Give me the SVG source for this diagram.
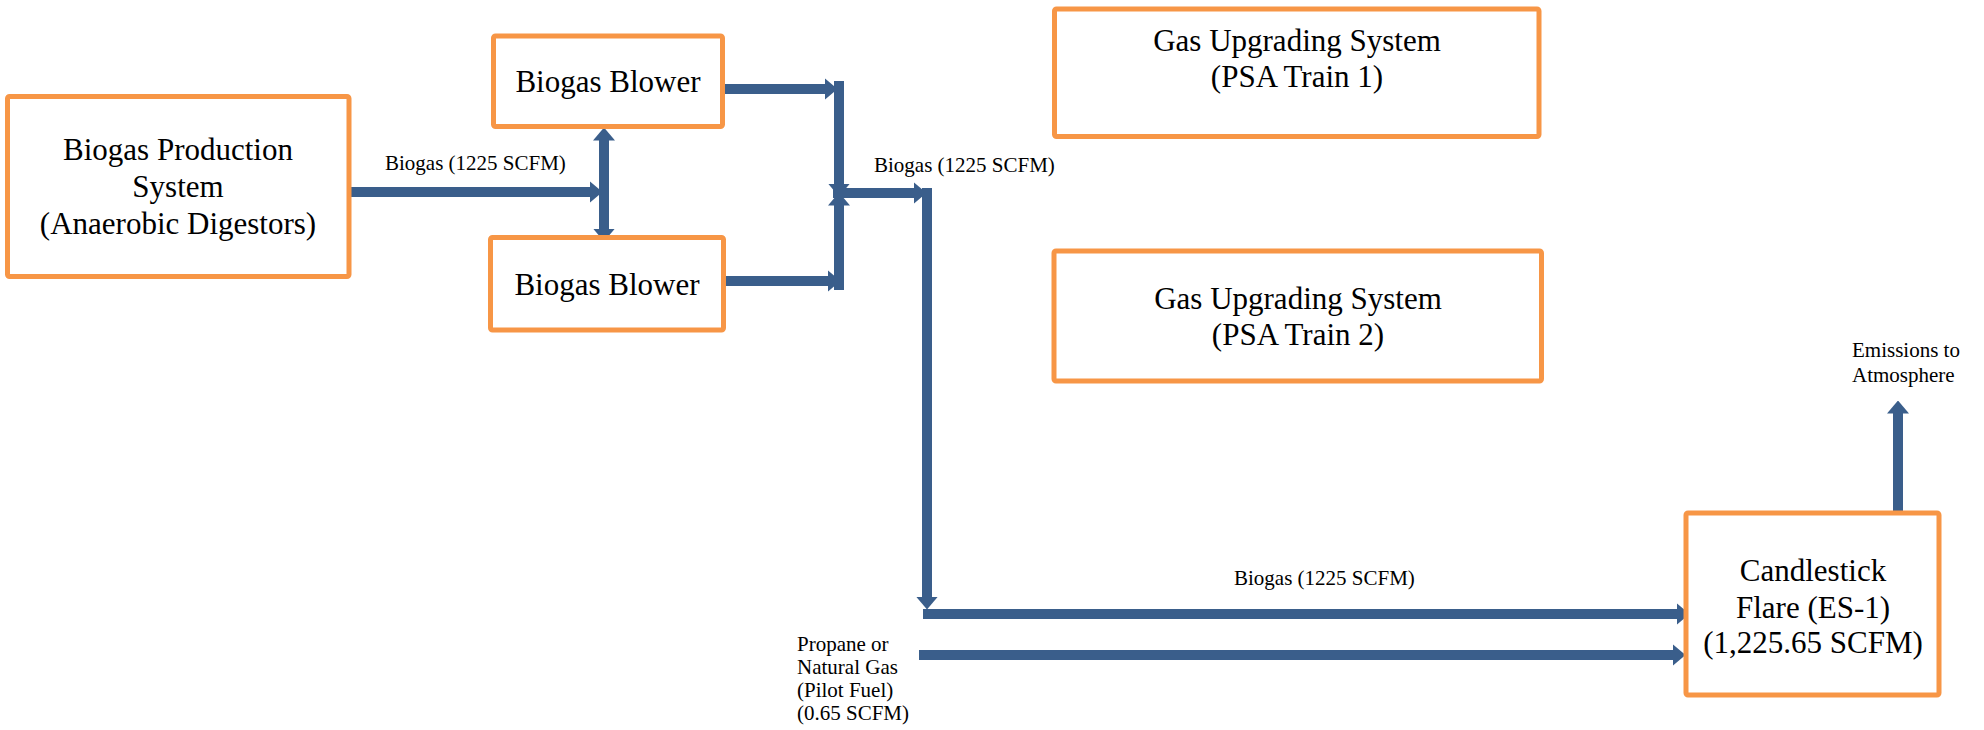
<svg xmlns="http://www.w3.org/2000/svg" width="1984" height="730" viewBox="0 0 1984 730">
<style>
.box{fill:#FFFFFF;stroke:#F79646;stroke-width:5}
.t{font-family:'Liberation Serif','DejaVu Serif',serif;font-size:31px;fill:#000;text-anchor:middle}
.lbl{font-family:'Liberation Serif','DejaVu Serif',serif;font-size:21px;fill:#000}
.c{fill:none;stroke:#3A5E8B;stroke-width:10;stroke-linecap:butt}
</style>
<defs>
<marker id="ah" markerUnits="userSpaceOnUse" markerWidth="13" markerHeight="22" viewBox="0 0 13 22" refX="0.5" refY="11" orient="auto-start-reverse">
<path d="M0,0 L13,11 L0,22 z" fill="#3A5E8B"/>
</marker>
</defs>
<rect width="1984" height="730" fill="#FFFFFF"/>
<g id="connectors">
<line class="c" x1="350" y1="192" x2="590" y2="192" marker-end="url(#ah)"/>
<line class="c" x1="604" y1="140" x2="604" y2="229" marker-start="url(#ah)" marker-end="url(#ah)"/>
<line class="c" x1="725" y1="89" x2="825" y2="89" marker-end="url(#ah)"/>
<line class="c" x1="839" y1="81" x2="839" y2="184" marker-end="url(#ah)"/>
<line class="c" x1="726" y1="281" x2="828" y2="281" marker-end="url(#ah)"/>
<line class="c" x1="839" y1="290" x2="839" y2="205" marker-end="url(#ah)"/>
<line class="c" x1="833" y1="193" x2="914" y2="193" marker-end="url(#ah)"/>
<line class="c" x1="927" y1="188" x2="927" y2="597" marker-end="url(#ah)"/>
<line class="c" x1="923" y1="614" x2="1677" y2="614" marker-end="url(#ah)"/>
<line class="c" x1="919" y1="655" x2="1673" y2="655" marker-end="url(#ah)"/>
<line class="c" x1="1898" y1="513" x2="1898" y2="413" marker-end="url(#ah)"/>
<text class="lbl" x="385" y="170">Biogas (1225 SCFM)</text>
<text class="lbl" x="874" y="172">Biogas (1225 SCFM)</text>
<text class="lbl" x="1234" y="585">Biogas (1225 SCFM)</text>
</g>
<g id="biogas-production">
<rect class="box" x="7.5" y="96.5" width="341.5" height="180" rx="2"/>
<text class="t" x="178" y="160">Biogas Production</text>
<text class="t" x="178" y="197">System</text>
<text class="t" x="178" y="234">(Anaerobic Digestors)</text>
</g>
<g id="blower-1">
<rect class="box" x="493.5" y="36" width="229" height="90.5" rx="2"/>
<text class="t" x="608" y="92">Biogas Blower</text>
</g>
<g id="blower-2">
<rect class="box" x="490.5" y="237.5" width="233" height="92.5" rx="2"/>
<text class="t" x="607" y="295">Biogas Blower</text>
</g>
<g id="psa-train-1">
<rect class="box" x="1054.5" y="9" width="484.5" height="127.5" rx="2"/>
<text class="t" x="1297" y="51">Gas Upgrading System</text>
<text class="t" x="1297" y="87">(PSA Train 1)</text>
</g>
<g id="psa-train-2">
<rect class="box" x="1054" y="251" width="487.5" height="130" rx="2"/>
<text class="t" x="1298" y="309">Gas Upgrading System</text>
<text class="t" x="1298" y="345">(PSA Train 2)</text>
</g>
<g id="flare">
<rect class="box" x="1686" y="513" width="253" height="182" rx="2"/>
<text class="t" x="1813" y="581">Candlestick</text>
<text class="t" x="1813" y="618">Flare (ES-1)</text>
<text class="t" x="1813" y="653">(1,225.65 SCFM)</text>
</g>
<g id="pilot-fuel">
<text class="lbl" x="797" y="651">Propane or</text>
<text class="lbl" x="797" y="674">Natural Gas</text>
<text class="lbl" x="797" y="697">(Pilot Fuel)</text>
<text class="lbl" x="797" y="720">(0.65 SCFM)</text>
</g>
<g id="emissions">
<text class="lbl" x="1852" y="357">Emissions to</text>
<text class="lbl" x="1852" y="382">Atmosphere</text>
</g>
</svg>
